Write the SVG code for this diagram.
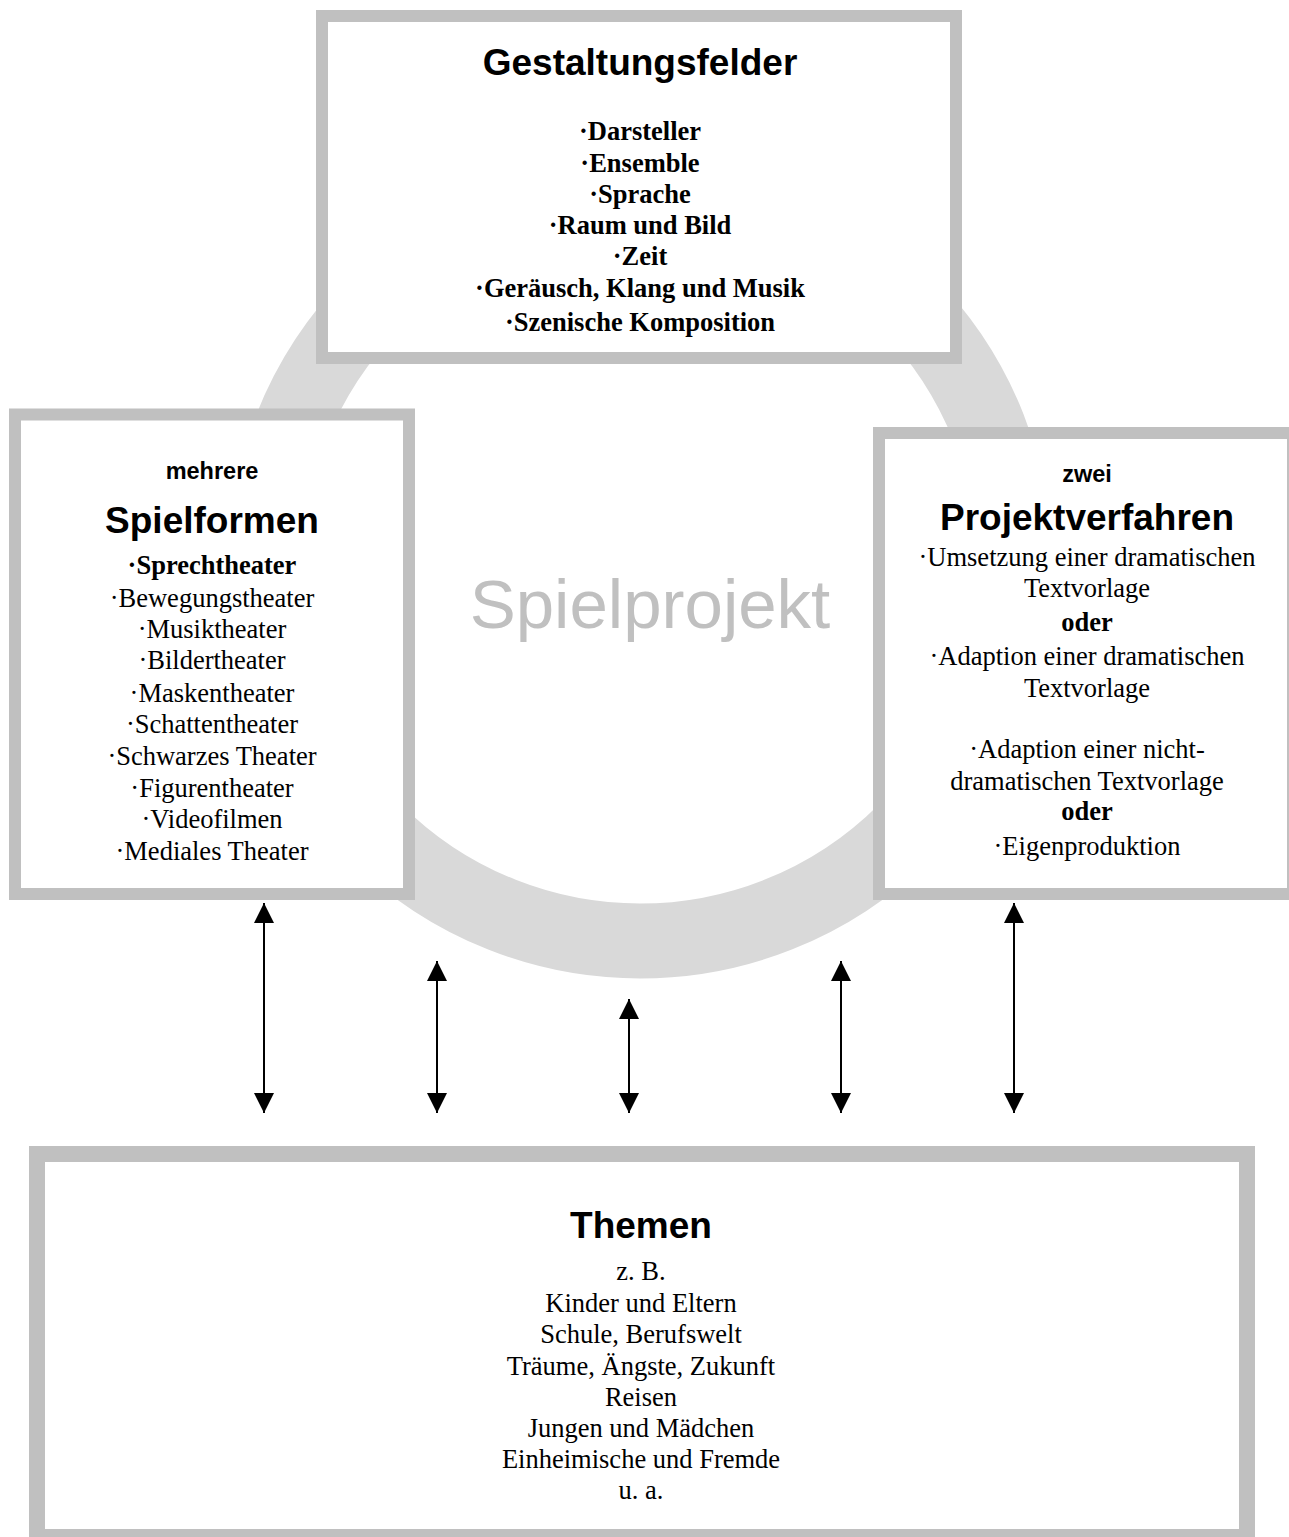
<svg xmlns="http://www.w3.org/2000/svg" width="1289" height="1537" viewBox="0 0 1289 1537">
<defs>
<style>
.box{fill:#ffffff;stroke:#c0c0c0;stroke-width:12}
.head{font-family:"Liberation Sans",Arial,sans-serif;font-weight:bold;font-size:37px;text-anchor:middle;fill:#000}
.sub{font-family:"Liberation Sans",Arial,sans-serif;font-weight:bold;font-size:23.5px;text-anchor:middle;fill:#000}
.it{font-family:"Liberation Serif","Times New Roman",serif;font-size:26.5px;text-anchor:middle;fill:#000}
.b{font-weight:bold}
.conn{stroke:#000;stroke-width:2;fill:none;marker-start:url(#ah);marker-end:url(#ah)}
</style>
<marker id="ah" viewBox="0 0 20 20" refX="20" refY="10" markerWidth="20" markerHeight="20" markerUnits="userSpaceOnUse" orient="auto-start-reverse">
<path d="M0,0 L20,10 L0,20 Z" fill="#000"/>
</marker>
</defs>
<rect width="1289" height="1537" fill="#fff"/>
<g id="ring">
<circle cx="640" cy="566" r="375" fill="none" stroke="#d9d9d9" stroke-width="75"/>
<text x="650" y="628" font-family="'Liberation Sans',Arial,sans-serif" font-size="69" text-anchor="middle" fill="#c0c0c0">Spielprojekt</text>
</g>
<g id="gestaltungsfelder">
<rect class="box" x="322" y="16" width="634" height="342"/>
<text class="head" x="640" y="75">Gestaltungsfelder</text>
<text class="it b" x="640" y="140">·Darsteller</text>
<text class="it b" x="640" y="172">·Ensemble</text>
<text class="it b" x="640" y="203">·Sprache</text>
<text class="it b" x="640" y="234">·Raum und Bild</text>
<text class="it b" x="640" y="265">·Zeit</text>
<text class="it b" x="640" y="297">·Geräusch, Klang und Musik</text>
<text class="it b" x="640" y="331">·Szenische Komposition</text>
</g>
<g id="spielformen">
<rect class="box" x="15" y="414.5" width="394" height="479.5"/>
<text class="sub" x="212" y="479">mehrere</text>
<text class="head" x="212" y="533">Spielformen</text>
<text class="it b" x="212" y="574">·Sprechtheater</text>
<text class="it" x="212" y="607">·Bewegungstheater</text>
<text class="it" x="212" y="638">·Musiktheater</text>
<text class="it" x="212" y="669">·Bildertheater</text>
<text class="it" x="212" y="702">·Maskentheater</text>
<text class="it" x="212" y="733">·Schattentheater</text>
<text class="it" x="212" y="765">·Schwarzes Theater</text>
<text class="it" x="212" y="797">·Figurentheater</text>
<text class="it" x="212" y="828">·Videofilmen</text>
<text class="it" x="212" y="860">·Mediales Theater</text>
</g>
<g id="projektverfahren">
<rect class="box" x="879" y="433" width="414" height="461"/>
<text class="sub" x="1087" y="482">zwei</text>
<text class="head" x="1087" y="530">Projektverfahren</text>
<text class="it" x="1087" y="566">·Umsetzung einer dramatischen</text>
<text class="it" x="1087" y="597">Textvorlage</text>
<text class="it b" x="1087" y="631">oder</text>
<text class="it" x="1087" y="665">·Adaption einer dramatischen</text>
<text class="it" x="1087" y="697">Textvorlage</text>
<text class="it" x="1087" y="758">·Adaption einer nicht-</text>
<text class="it" x="1087" y="790">dramatischen Textvorlage</text>
<text class="it b" x="1087" y="820">oder</text>
<text class="it" x="1087" y="855">·Eigenproduktion</text>
</g>
<g id="themen">
<rect class="box" x="37" y="1154" width="1210" height="383" style="stroke-width:16"/>
<text class="head" x="641" y="1238">Themen</text>
<text class="it" x="641" y="1280">z. B.</text>
<text class="it" x="641" y="1312">Kinder und Eltern</text>
<text class="it" x="641" y="1343">Schule, Berufswelt</text>
<text class="it" x="641" y="1375">Träume, Ängste, Zukunft</text>
<text class="it" x="641" y="1406">Reisen</text>
<text class="it" x="641" y="1437">Jungen und Mädchen</text>
<text class="it" x="641" y="1468">Einheimische und Fremde</text>
<text class="it" x="641" y="1499">u. a.</text>
</g>
<g id="connectors">
<line class="conn" x1="264" y1="903" x2="264" y2="1113"/>
<line class="conn" x1="437" y1="961" x2="437" y2="1113"/>
<line class="conn" x1="629" y1="999" x2="629" y2="1113"/>
<line class="conn" x1="841" y1="961" x2="841" y2="1113"/>
<line class="conn" x1="1014" y1="903" x2="1014" y2="1113"/>
</g>
</svg>
